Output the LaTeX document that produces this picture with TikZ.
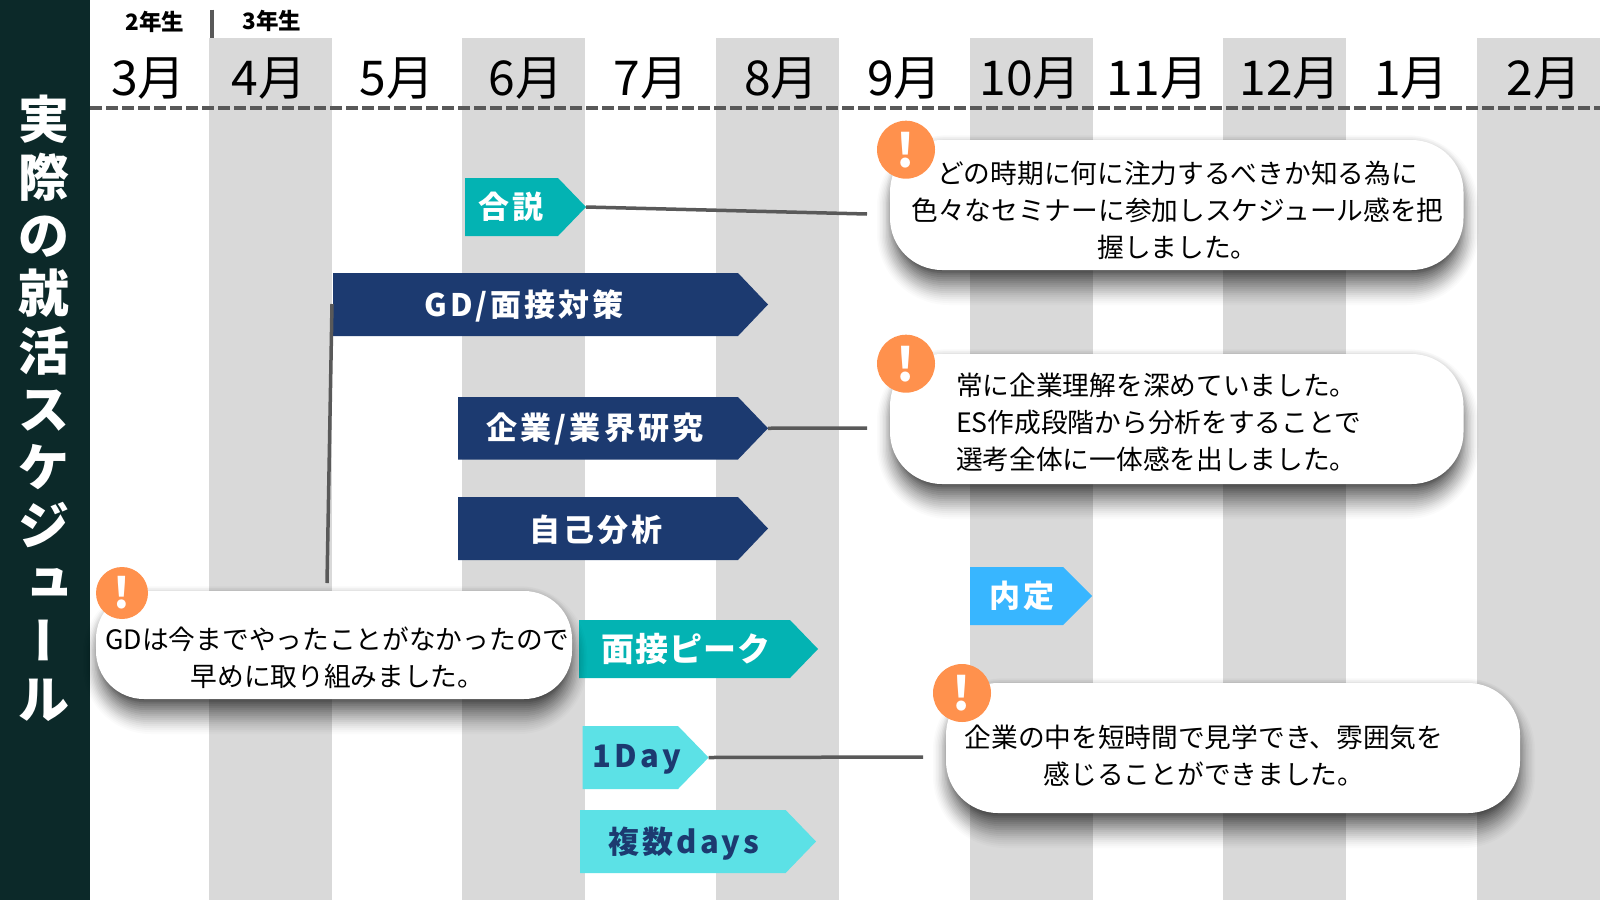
\documentclass[tikz,border=0pt]{standalone}
\usepackage{fontspec}
\setmainfont{Noto Sans CJK JP}
\definecolor{sidec}{HTML}{0C2929}
\definecolor{bandc}{HTML}{D9D9D9}
\definecolor{linec}{HTML}{595959}
\definecolor{navyc}{HTML}{1C3A70}
\definecolor{tealc}{HTML}{03B3B3}
\definecolor{cyanc}{HTML}{5CE1E6}
\definecolor{skyc}{HTML}{38B6FF}
\definecolor{orangec}{HTML}{FF914D}
\tikzset{
  x=1pt,y=-1pt,
  band/.style={fill=bandc,draw=none},
  month/.style={font=\fontsize{48}{50}\selectfont,text=black,inner sep=0pt},
  grade/.style={font=\fontsize{22.5}{24}\bfseries\selectfont,text=black,inner sep=0pt},
  link/.style={draw=linec,line width=3.5pt},
  barlabel/.style={font=\fontsize{31}{34}\bfseries\selectfont\addfontfeature{LetterSpace=10},inner sep=0pt},
  calltext/.style={font=\fontsize{26.7}{37}\selectfont,text=black,inner sep=0pt,align=center},
  warn/.style={circle,fill=orangec,minimum size=58pt,inner sep=0pt,text=white,font=\fontsize{46}{48}\bfseries\selectfont},
}
\newcommand{\pentbar}[7]{%
  \fill[#7] (#2,#3) -- (#4,#3) -- (#5,{(#3+#6)/2}) -- (#4,#6) -- (#2,#6) -- cycle;
  \coordinate (#1-tip) at (#5,{(#3+#6)/2});
}
\newcommand{\callbox}[6]{%
  \foreach \e in {-14,-12,...,20}{
    \pgfmathsetmacro{\rr}{#6+\e}
    \pgfmathsetmacro{\ex}{0.75*\e-1}
    \pgfmathsetmacro{\op}{0.085*(1-(\e+14)/42)}
    \fill[black,fill opacity=\op,rounded corners=\rr pt] ({#2-\ex+1},{#3-\e+15}) rectangle ({#4+\ex+1},{#5+\e+15});
  }
  \foreach \g in {1,2,3,4}{
    \pgfmathsetmacro{\rr}{#6+\g}
    \fill[black,fill opacity=.012,rounded corners=\rr pt] ({#2-\g},{#3-\g}) rectangle ({#4+\g},{#5+\g});
  }
  \fill[white,rounded corners=#6 pt] (#2,#3) rectangle (#4,#5);
  \coordinate (#1) at ({(#2+#4)/2},{(#3+#5)/2});
}
\begin{document}
\begin{tikzpicture}
\useasboundingbox (0,0) rectangle (1600,900);
\fill[white] (0,0) rectangle (1600,900);
\foreach \a/\b in {209/332,462/585,716/839,970/1093,1223/1346,1477/1600}{
  \fill[band] (\a,37.5) rectangle (\b,900);
}
\fill[sidec] (0,0) rectangle (90,900);
\node[inner sep=0pt,text=white,align=center,font=\fontsize{51}{58}\bfseries\selectfont] (title) at (44,408)
  {実\\際\\の\\就\\活\\ス\\ケ\\ジ\\{\addfontfeature{RawFeature=+vert}ュ}\\{\addfontfeature{RawFeature=+vert}ー}\\ル};
\node[grade] (g2) at (155,22) {2年生};
\node[grade] (g3) at (272,21) {3年生};
\coordinate (divt) at (212,9.5);
\coordinate (divb) at (212,38);
\draw[linec,line width=3.5pt] (divt) -- (divb);
\foreach \n/\cx/\t in {m3/148.5/3月,m4/269/4月,m5/397/5月,m6/526/6月,m7/651/7月,m8/781.6/8月,m9/904.5/9月,m10/1030/10月,m11/1157.5/11月,m12/1290/12月,m1/1411.5/1月,m2/1544/2月}{
  \node[month] (\n) at (\cx,78.5) {\t};
}
\coordinate (dashl) at (90,107.7);
\coordinate (dashr) at (1600,107.7);
\draw[linec,line width=4pt,dash pattern=on 12pt off 4pt] (dashl) -- (dashr);

% bars
\pentbar{goset}{465}{178}{558}{586}{236}{tealc}
\node[barlabel,text=white] (gosetl) at (511,207) {合説};
\pentbar{gd}{333}{273}{738}{768}{336}{navyc}
\node[barlabel,text=white] (gdl) at (524,306) {GD/面接対策};
\pentbar{kigyo}{458}{397}{738}{768}{459.5}{navyc}
\node[barlabel,text=white] (kigyol) at (595,429) {企業/業界研究};
\pentbar{jiko}{458}{497}{738}{768}{560}{navyc}
\node[barlabel,text=white] (jikol) at (596,529.5) {自己分析};
\pentbar{naitei}{970}{567}{1063}{1092}{625}{skyc}
\node[barlabel,text=white] (naiteil) at (1022,596) {内定};
\pentbar{peak}{579}{620}{790}{818}{678}{tealc}
\node[barlabel,text=white,font=\fontsize{33}{34}\bfseries\selectfont\addfontfeature{LetterSpace=3}] (peakl) at (686,648.5) {面接ピーク};
\pentbar{oneday}{582.5}{726}{678}{708.6}{789}{cyanc}
\node[barlabel,text=navyc] (onedayl) at (637,759) {1Day};
\pentbar{multi}{580}{810}{785.6}{816}{873}{cyanc}
\node[barlabel,text=navyc] (multil) at (684,844) {複数days};

% connector ends
\coordinate (e1) at (867,214);
\coordinate (e2) at (867,428);
\coordinate (e3) at (923,757);
\coordinate (e4t) at (332,304);
\coordinate (e4b) at (327,583);
\draw[link] (goset-tip) -- (e1);
\draw[link] (kigyo-tip) -- (e2);
\draw[link] (oneday-tip) -- (e3);
\draw[link] (e4t) -- (e4b);

% callouts
\callbox{c1}{890}{140}{1463.5}{270}{52}
\callbox{c2}{890}{354}{1463.5}{484}{52}
\callbox{c3}{946}{683}{1520}{813}{52}
\callbox{c4}{96}{591}{572}{699}{48}
\node[calltext] (c1t) at (1177.5,210) {どの時期に何に注力するべきか知る為に\\色々なセミナーに参加しスケジュール感を把\\握しました。};
\node[calltext,align=left] (c2t) at (1158.5,422.5) {常に企業理解を深めていました。\\ES作成段階から分析をすることで\\選考全体に一体感を出しました。};
\node[calltext] (c3t) at (1204,755.5) {企業の中を短時間で見学でき、雰囲気を\\感じることができました。};
\node[calltext] (c4t) at (337.5,657.5) {GDは今までやったことがなかったので\\早めに取り組みました。};

\node[warn] (w1) at (906,149.7) {!};
\node[warn] (w2) at (906,363.7) {!};
\node[warn] (w3) at (962,693) {!};
\node[warn,minimum size=52pt,font=\fontsize{42}{44}\bfseries\selectfont] (w4) at (122,593) {!};
\end{tikzpicture}
\end{document}
